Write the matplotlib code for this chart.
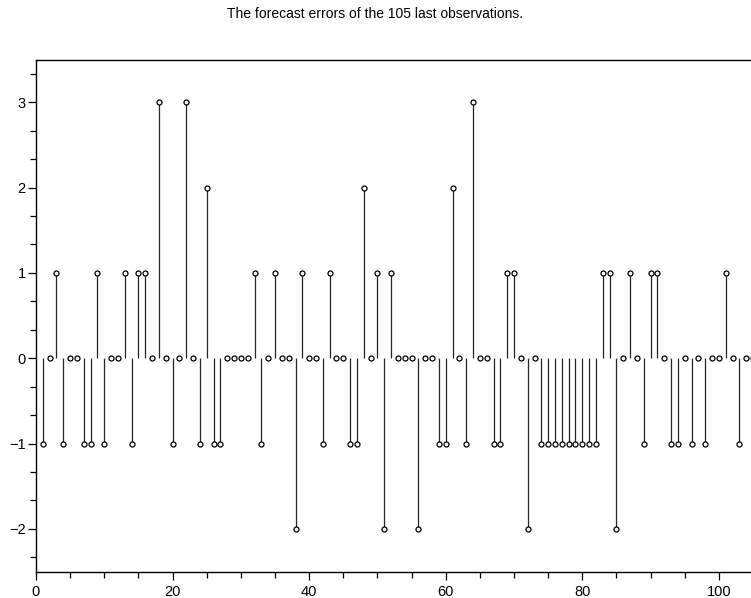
import matplotlib
matplotlib.use("Agg")
import matplotlib.pyplot as plt
from matplotlib.ticker import MultipleLocator
import numpy as np

title = "The forecast errors of the 105 last observations."

errors = [
    -1, 0, 1, -1, 0, 0, -1, -1, 1, -1,      # 1-10
    0, 0, 1, -1, 1, 1, 0, 3, 0, -1,         # 11-20
    0, 3, 0, -1, 2, -1, -1, 0, 0, 0,        # 21-30
    0, 1, -1, 0, 1, 0, 0, -2, 1, 0,         # 31-40
    0, -1, 1, 0, 0, -1, -1, 2, 0, 1,        # 41-50
    -2, 1, 0, 0, 0, -2, 0, 0, -1, -1,       # 51-60
    2, 0, -1, 3, 0, 0, -1, -1, 1, 1,        # 61-70
    0, -2, 0, -1, -1, -1, -1, -1, -1, -1,   # 71-80
    -1, -1, 1, 1, -2, 0, 1, 0, -1, 1,       # 81-90
    1, 0, -1, -1, 0, -1, 0, -1, 0, 0,       # 91-100
    1, 0, -1, 0, 0,                         # 101-105
]
obs = list(range(1, len(errors) + 1))

x_major = [0, 20, 40, 60, 80, 100]
y_major = [-2, -1, 0, 1, 2, 3]
y_labels = ["\u22122", "\u22121", "0", "1", "2", "3"]

plt.rcParams['font.family'] = ['Liberation Sans', 'DejaVu Sans']

W, H = 751, 598
fig = plt.figure(figsize=(W / 100, H / 100), dpi=100)
left, right, top, bottom = 36, 751, 59.5, 571.5
ax = fig.add_axes([left / W, (H - bottom) / H, (right - left) / W, (bottom - top) / H])

markerline, stemlines, baseline = ax.stem(obs, errors, basefmt=' ')
plt.setp(stemlines, color='#222222', linewidth=0.9)
plt.setp(markerline, marker='o', markersize=3.6, markerfacecolor='white',
         markeredgecolor='black', markeredgewidth=0.9, linestyle='none', zorder=3)

ax.set_xlim(0, 104.7)
ax.set_ylim(-2.5, 3.5)

ax.spines['right'].set_visible(False)
for s in ['left', 'top', 'bottom']:
    ax.spines[s].set_linewidth(1.0)
    ax.spines[s].set_color('black')

ax.set_xticks(x_major)
ax.set_xticklabels([str(v) for v in x_major])
ax.xaxis.set_minor_locator(MultipleLocator(5))
ax.set_yticks(y_major)
ax.set_yticklabels(y_labels)
ax.yaxis.set_minor_locator(MultipleLocator(1 / 3))

ax.tick_params(which='major', direction='out', length=5.8, width=0.9, labelsize=10.5)
ax.tick_params(which='minor', direction='out', length=4, width=0.9)
ax.tick_params(axis='x', which='major', pad=4)
ax.tick_params(axis='y', which='major', pad=1.5)
ax.tick_params(top=False, right=False, which='both')

fig.text(375 / W, 1 - 14 / H, title, ha='center', va='center', fontsize=10)

fig.savefig("out.png", dpi=100)
